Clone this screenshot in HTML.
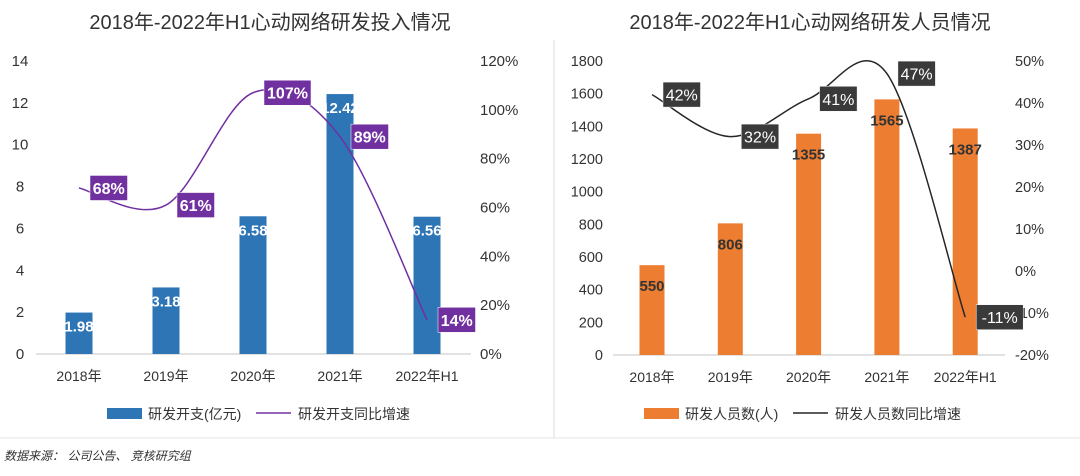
<!DOCTYPE html>
<html><head><meta charset="utf-8"><style>
body{margin:0;background:#fff;}
svg text{font-family:"Liberation Sans","Noto Sans CJK SC",sans-serif;}
</style></head><body>
<svg id="s" width="1080" height="471" xmlns="http://www.w3.org/2000/svg">
<rect width="1080" height="471" fill="#fff"/>
<text x="270" y="29" font-size="20" text-anchor="middle" fill="#333">2018年-2022年H1心动网络研发投入情况</text>
<text x="810" y="29" font-size="20" text-anchor="middle" fill="#333">2018年-2022年H1心动网络研发人员情况</text>
<line x1="554" y1="40" x2="554" y2="438" stroke="#ddd"/>
<line x1="0" y1="438" x2="1080" y2="438" stroke="#e5e5e5"/>
<text x="4" y="460" font-size="12" font-style="italic" fill="#333">数据来源： 公司公告、 竞核研究组</text>
<g id="L"></g><g id="R"></g>
</svg>
<script>
const categories=["2018年","2019年","2020年","2021年","2022年H1"];
const spend=[1.98,3.18,6.58,12.42,6.56];
const spendLabels=["1.98","3.18","6.58","12.42","6.56"];
const spendGrowth=[68,61,107,89,14];
const leftTicks=[0,2,4,6,8,10,12,14];
const leftPctTicks=[0,20,40,60,80,100,120];
const staff=[550,806,1355,1565,1387];
const staffGrowth=[42,32,41,47,-11];
const rightTicks=[0,200,400,600,800,1000,1200,1400,1600,1800];
const rightPctTicks=[-20,-10,0,10,20,30,40,50];

const NS="http://www.w3.org/2000/svg";
function mk(p,t,a,txt){const e=document.createElementNS(NS,t);for(const k in a)e.setAttribute(k,a[k]);if(txt!==undefined)e.textContent=txt;p.appendChild(e);return e;}
function smooth(pts){let d=`M${pts[0][0]},${pts[0][1]}`;for(let i=0;i<pts.length-1;i++){const p0=pts[i-1]||pts[i],p1=pts[i],p2=pts[i+1],p3=pts[i+2]||p2;const t=6;d+=` C${p1[0]+(p2[0]-p0[0])/t},${p1[1]+(p2[1]-p0[1])/t} ${p2[0]-(p3[0]-p1[0])/t},${p2[1]-(p3[1]-p1[1])/t} ${p2[0]},${p2[1]}`;}return d;}

function chart(g,o){
  const y=v=>o.y0-(v-o.min)/(o.max-o.min)*(o.y0-o.y1);
  const y2=v=>o.y0-(v-o.pmin)/(o.pmax-o.pmin)*(o.y0-o.y1);
  const x=i=>o.x0+i*o.step;
  o.ticks.forEach(t=>{const e=mk(g,"text",{x:o.lx,y:y(t)+5,"font-size":o.tf,fill:"#333","text-anchor":o.la},t);
    
    });
  o.pticks.forEach(t=>{const e=mk(g,"text",{x:o.rx,y:y2(t)+5,"font-size":o.tf,fill:"#333"},t+"%");
    
    });
  const ax=mk(g,"line",{x1:o.ax1,x2:o.ax2,y1:o.y0,y2:o.y0,stroke:"#d9d9d9","stroke-width":1.5});
  
  
  categories.forEach((c,i)=>{const e=mk(g,"text",{x:x(i),y:o.y0+27,"font-size":14,fill:"#333","text-anchor":"middle"},c);
    
    });
  o.bars.forEach((v,i)=>{const b=mk(g,"rect",{x:x(i)-o.bw/2,y:y(v),width:o.bw,height:o.y0-y(v),fill:o.bc});
    
    });
  o.bars.forEach((v,i)=>{const t=mk(g,"text",{x:x(i),y:y(v)+o.bly,"font-size":15,"font-weight":"bold",fill:o.blc,"text-anchor":"middle"},o.blabels[i]);
    
    });
  const pts=o.line.map((v,i)=>[x(i),y2(v)]);
  const p=mk(g,"path",{d:smooth(pts),fill:"none",stroke:o.lc,"stroke-width":1.5});
  
  
  o.line.forEach((v,i)=>{const w=(v+"%").length*9.5+9;const bx=pts[i][0]+11,by=pts[i][1]-12.5;
    const r=mk(g,"rect",{x:bx,y:by,width:w,height:25,fill:o.lbc,stroke:"#fff","stroke-width":0.5});
    
    
    const t=mk(g,"text",{x:bx+w/2,y:by+18.5,"font-size":16,"font-weight":o.lbw,fill:"#fff","text-anchor":"middle"},v+"%");
    
    });
  const lr=mk(g,"rect",{x:o.lgx,y:408,width:35,height:11,fill:o.bc});
  
  
  const lt=mk(g,"text",{x:o.lgx+41,y:419,"font-size":14,fill:"#333"},o.leg1);
  
  
  const ll=mk(g,"line",{x1:o.lgx+149,x2:o.lgx+184,y1:413,y2:413,stroke:o.lc,"stroke-width":1.5});
  
  
  const lt2=mk(g,"text",{x:o.lgx+191,y:419,"font-size":14,fill:"#333"},o.leg2);
  
  
}
chart(document.getElementById("L"),{y0:354,y1:61,min:0,max:14,pmin:0,pmax:120,x0:79,step:87,bw:27,bc:"#2e75b6",tf:15,
  ticks:leftTicks,pticks:leftPctTicks,lx:20,la:"middle",rx:480,ax1:36,ax2:471,bars:spend,blabels:spendLabels,bly:19,blc:"#fff",
  line:spendGrowth,lc:"#7030a0",lbc:"#7030a0",lbw:"bold",lgx:107,leg1:"研发开支(亿元)",leg2:"研发开支同比增速"});
chart(document.getElementById("R"),{y0:355,y1:61,min:0,max:1800,pmin:-20,pmax:50,x0:652,step:78.3,bw:25,bc:"#ed7d31",tf:14.5,
  ticks:rightTicks,pticks:rightPctTicks,lx:603,la:"end",rx:1015,ax1:613,ax2:1005,bars:staff,blabels:staff.map(String),bly:26,blc:"#333",
  line:staffGrowth,lc:"#262626",lbc:"#3a3a3a",lbw:"normal",lgx:644,leg1:"研发人员数(人)",leg2:"研发人员数同比增速"});
</script>
</body></html>
